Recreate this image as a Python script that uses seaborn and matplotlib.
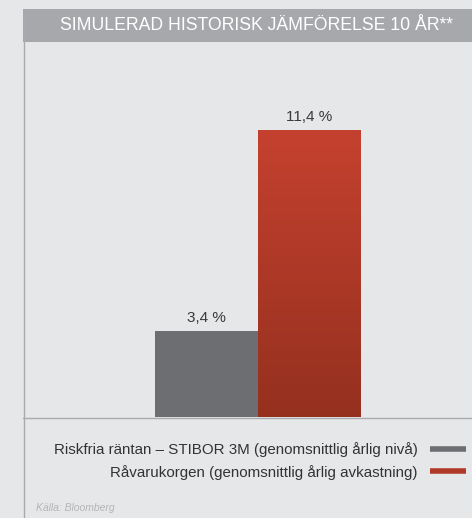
import numpy as np
import matplotlib
matplotlib.use("Agg")
import matplotlib.pyplot as plt
import seaborn as sns
from matplotlib.lines import Line2D
from matplotlib.patches import Rectangle
from matplotlib.colors import LinearSegmentedColormap

categories = ["Riskfria räntan – STIBOR 3M (genomsnittlig årlig nivå)",
              "Råvarukorgen (genomsnittlig årlig avkastning)"]
values = [3.4, 11.4]
value_labels = ["3,4 %", "11,4 %"]
title = "SIMULERAD HISTORISK JÄMFÖRELSE 10 ÅR**"
source = "Källa: Bloomberg"

BG = "#e6e7e8"
GRAY = "#6d6e71"
RED = "#b03a29"
RED_TOP = "#c5412f"
RED_BOT = "#95301f"
BAR_TITLE = "#a6a8ab"
LINE = "#a9aaad"

sns.set_theme(style="white")
plt.rcParams["font.family"] = ["Liberation Sans", "DejaVu Sans"]

W, H = 472, 518
fig = plt.figure(figsize=(W / 100, H / 100), dpi=100, facecolor=BG)

def fx(px):
    return px / W

def fy(py):
    return 1 - py / H

ax = fig.add_axes([fx(23), fy(417), fx(472 - 23), (417 - 42) / H])
ax.set_facecolor(BG)
sns.barplot(x=categories, y=values, hue=categories, palette=[GRAY, RED],
            width=1.0, saturation=1, legend=False, ax=ax, linewidth=0)
for s in ax.spines.values():
    s.set_visible(False)
ax.set_xticks([])
ax.set_yticks([])
ax.set_xlabel("")
ax.set_ylabel("")

p = ax.patches[1]
x0, y0 = p.get_x(), p.get_y()
w, h = p.get_width(), p.get_height()
grad = np.linspace(0, 1, 256).reshape(-1, 1)
cmap = LinearSegmentedColormap.from_list("rg", [RED_BOT, RED_TOP])
im = ax.imshow(grad, extent=[x0, x0 + w, y0, y0 + h], origin="lower",
               cmap=cmap, aspect="auto", zorder=p.get_zorder() + 0.1)
im.set_clip_path(p)
ax.set_xlim(-1.794, 2.598)
ax.set_ylim(0, 11.4 * 375 / 287)

for i, (v, lab) in enumerate(zip(values, value_labels)):
    ax.text(i, v + 0.25, lab, ha="center", va="bottom", fontsize=11,
            color="#3a3a3c")

fig.add_artist(Line2D([fx(23), 1], [fy(417.5), fy(417.5)], color=LINE, lw=1))
fig.add_artist(Line2D([fx(23.5), fx(23.5)], [fy(9), 0], color=LINE, lw=1))
fig.add_artist(Rectangle((fx(23), fy(42)), 1 - fx(23), (42 - 9) / H,
                         transform=fig.transFigure, facecolor=BAR_TITLE,
                         edgecolor="none"))
fig.text(fx(256.5), fy(26), title, ha="center", va="center", color="white",
         fontsize=12.7)

handles = [Line2D([], [], color=GRAY, lw=4, solid_capstyle="butt"),
           Line2D([], [], color=RED, lw=4, solid_capstyle="butt")]
leg = fig.legend(handles, categories, loc="upper right",
                 bbox_to_anchor=(fx(466), fy(442)), frameon=False,
                 markerfirst=False, fontsize=10.9, handlelength=2.4,
                 labelspacing=0.5, handletextpad=0.8, borderaxespad=0,
                 borderpad=0, labelcolor="#333333")
leg._legend_box.align = "right"

fig.text(fx(36), fy(508), source, ha="left", va="center", fontsize=7.5,
         style="italic", color="#b4b5b8")

fig.savefig("out.png", dpi=100, facecolor=BG)
